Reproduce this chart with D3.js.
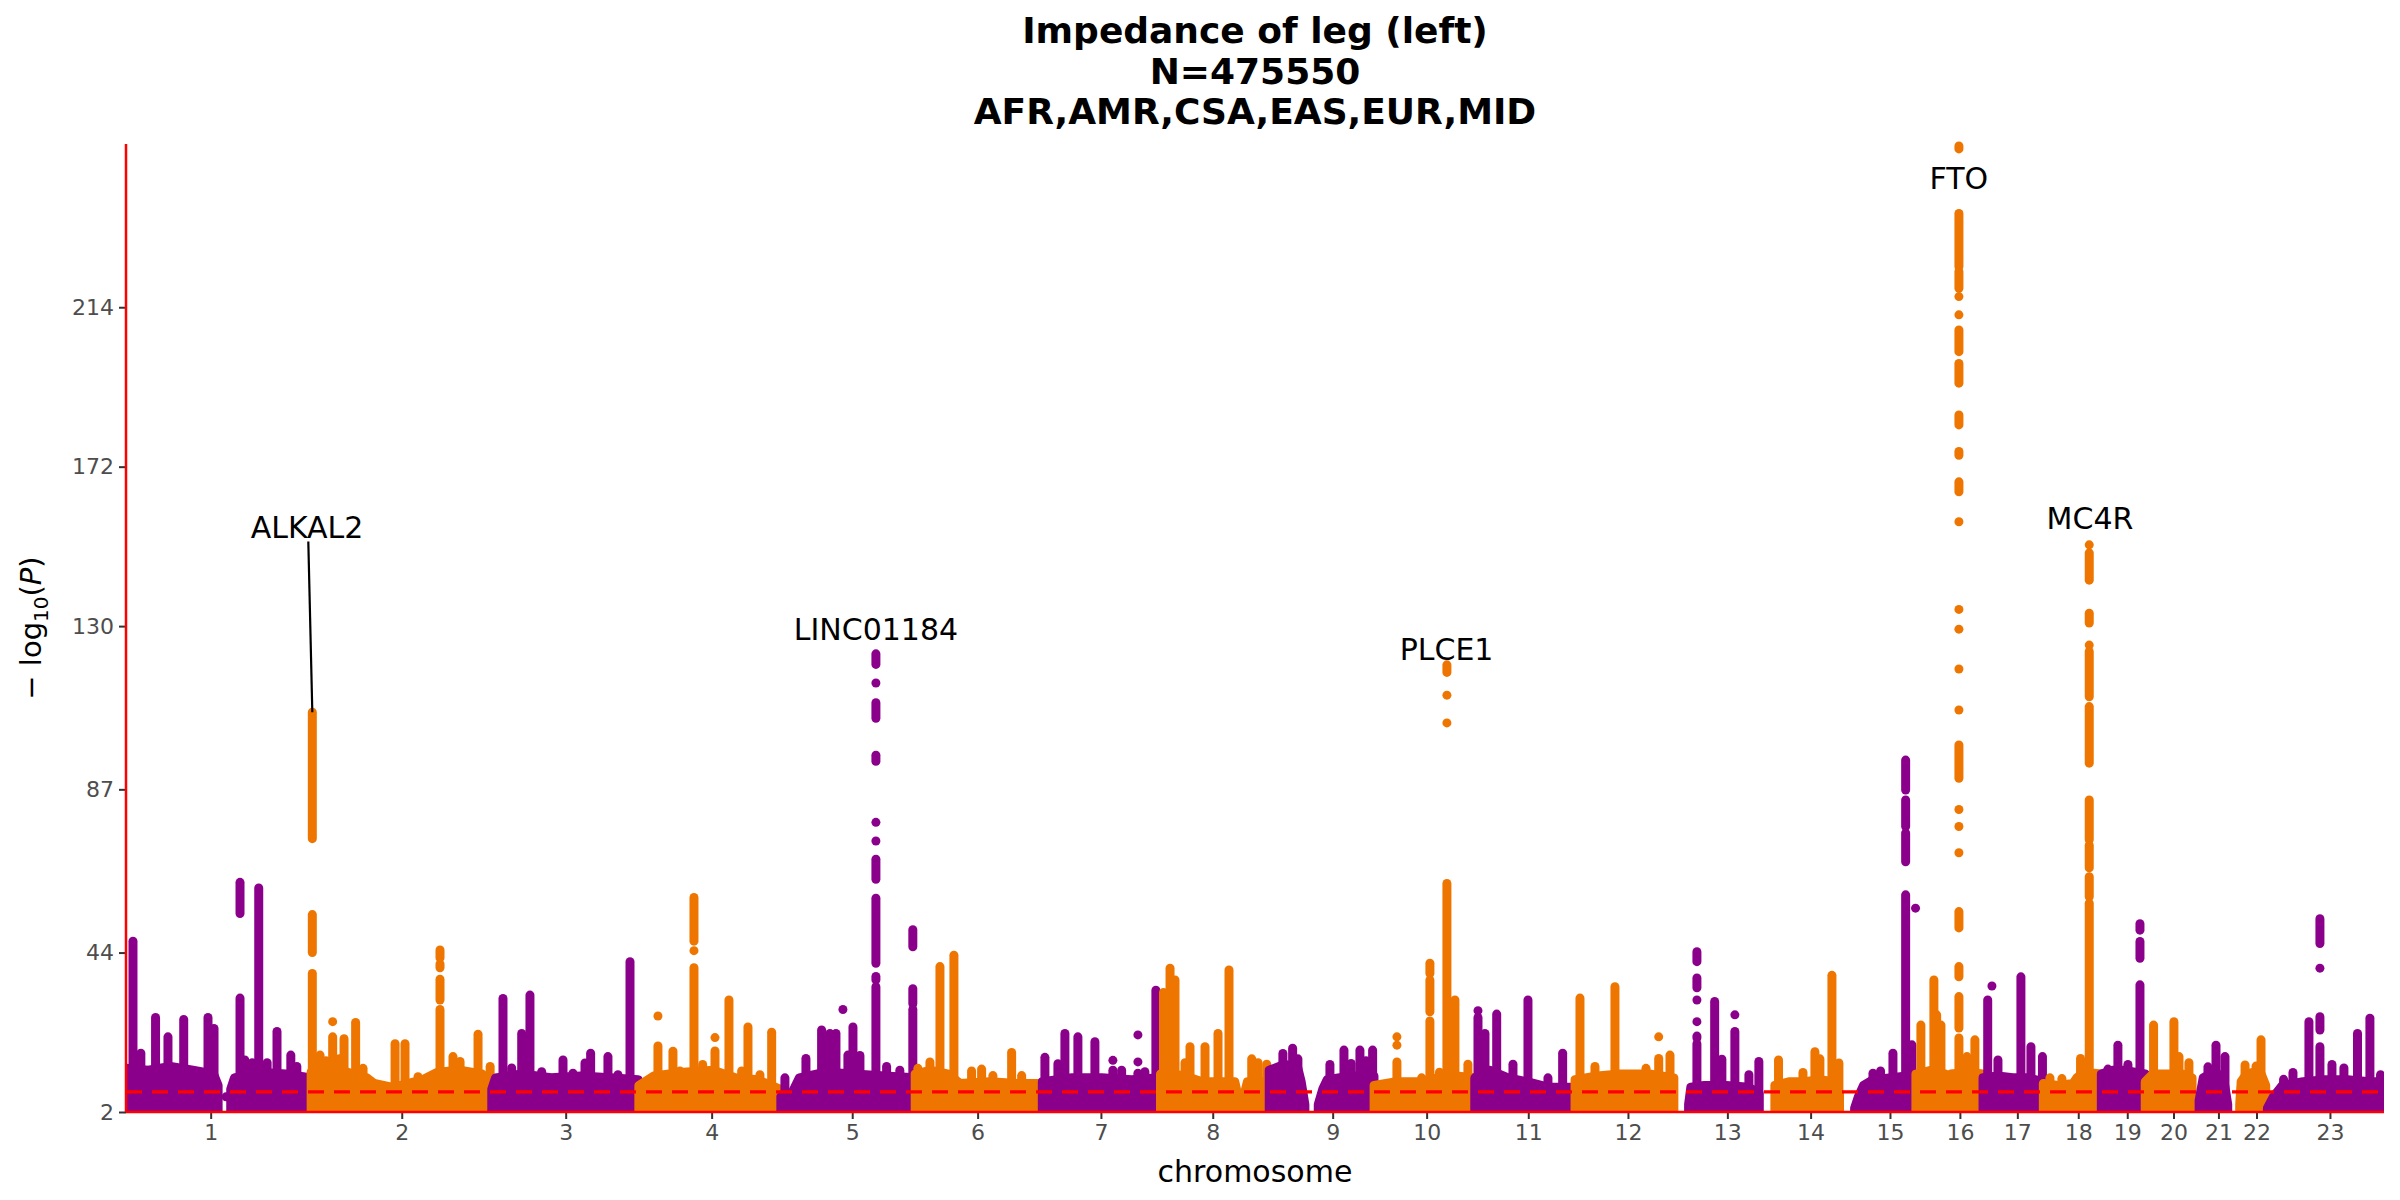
<!DOCTYPE html>
<html>
<head>
<meta charset="utf-8">
<script src="https://cdn.jsdelivr.net/npm/d3@7"></script>
<style>
  body { margin: 0; background: #fff; }
  text { font-family: "DejaVu Sans", sans-serif; }
</style>
</head>
<body>
<div id="chart"></div>
<script>
// chromosome layout (hg19 lengths, Mb) and tick positions inside each chromosome
const chromosomes = ["1","2","3","4","5","6","7","8","9","10","11","12","13","14","15","16","17","18","19","20","21","22","23"];
const chrLengthMb = [249.25,243.2,198.02,191.15,180.92,171.12,159.14,146.36,141.21,135.53,135.01,133.85,115.17,107.35,102.53,90.35,81.2,78.08,59.13,63.03,48.13,51.3,155.27];
const tickMb = [114,122,99.5,98,96.1,84,78.9,70.3,85.4,70.7,72,71.2,71.2,68.1,67.6,59.2,46.2,47,34.9,38,35.5,38.6,86.2];
const yTicks = [2, 44, 87, 130, 172, 214];
const yDomain = [2, 257];
const genomeMb = 3040;
const threshold = 7.3;
const titleLines = ["Impedance of leg (left)", "N=475550", "AFR,AMR,CSA,EAS,EUR,MID"];

// dense mass of points near the bottom: [pos Mb, top -log10P] per chromosome (null = gap)
const massProfile = [
  [[0,13.5],[30,13],[60,14],[90,13],[118,12],[124,9],[132,null],[141,8],[146,11],[180,12.5],[215,12],[249,11]],
  [[0,12.5],[40,13],[75,11],[85,9.5],[110,8.5],[130,9.5],[150,10.5],[170,12.5],[200,13],[230,12],[242,10]],
  [[0,8],[5,11],[40,12],[80,11],[120,11.5],[160,11],[197,10.5]],
  [[0,9],[20,11.5],[60,12.5],[100,13],[130,11],[160,10.5],[190,8]],
  [[0,6],[15,7],[25,11],[60,12.5],[100,12],[140,11.5],[180,11]],
  [[0,12],[20,13],[45,12],[60,9.5],[100,10],[140,9.5],[170,9.5]],
  [[0,10],[40,11],[80,11],[120,10.5],[158,11]],
  [[0,12],[20,12],[40,11],[55,10],[100,10],[104,6.5],[112,6],[117,10],[145,10]],
  [[0,13],[20,14.5],[38,14],[43,10],[48,4],[55,null],[66,4],[72,8],[78,10.5],[110,11.5],[141,11.5]],
  [[0,9],[30,10],[60,10],[85,11],[110,11.5],[135,11]],
  [[0,11],[20,13],[45,11],[70,10],[100,8.5],[134,8.5]],
  [[0,10.5],[30,11.5],[60,12],[100,12],[133,11]],
  [[19,4],[22,8.5],[40,9],[70,9],[100,8.5],[114,7]],
  [[20,9],[40,10],[60,10],[80,10.5],[100,10],[107,7]],
  [[20,3],[25,6],[32,9],[45,10.5],[70,11],[90,11.5],[102,11]],
  [[0,12],[20,13],[40,12],[44,6],[47,12],[70,12.5],[90,12]],
  [[0,11],[20,11.5],[40,11],[60,11],[81,10]],
  [[0,9.5],[20,9],[40,9.5],[45,11],[55,12.5],[78,12]],
  [[0,12],[15,13],[30,13],[45,12.5],[59,12]],
  [[0,10],[10,12],[30,12],[50,12],[63,11]],
  [[9.5,5],[15,11],[25,12],[35,12],[44,9],[48,4]],
  [[16,4],[18,10],[25,12],[35,12.5],[45,12],[51,9]],
  [[2,3],[10,6],[22,9],[50,10],[80,10.5],[110,10.5],[140,10],[155,10]]
];

// solid columns of points: [chr, pos Mb, top]
const simplePeaks = [
  [1,9.4,47],[1,20,17.5],[1,39.8,26.9],[1,56.5,21.8],[1,77.7,26.4],[1,110.4,26.9],[1,118.5,24],[1,160,15.7],[1,170,15],[1,178.7,61],[1,190,15],[1,203.3,23.2],[1,221.9,17],[1,230,14],
  [2,12,17],[2,20,15.5],[2,29,21.8],[2,38,16],[2,44.3,21.3],[2,59.9,25.6],[2,69.9,13.5],[2,113,20],[2,126.4,20],[2,191,16.6],[2,200.5,15.3],[2,224.7,22.5],[2,241,14],
  [3,15.1,31.9],[3,26.8,13.6],[3,40.3,22.7],[3,51.4,32.8],[3,67.2,12.6],[3,95.9,15.7],[3,109.3,12.2],[3,125.5,14.9],[3,133.1,17.5],[3,156.4,16.6],[3,169.9,11.8],[3,186.1,41.6],
  [4,25.7,19.4],[4,45.9,18],[4,55.3,12.8],[4,85.9,14.5],[4,102.5,18.1],[4,121.3,31.5],[4,138.4,12.8],[4,146.9,24.4],[4,163,11.8],[4,178.8,23],
  [5,5.5,11],[5,33.8,16.1],[5,54.9,23.6],[5,66.1,22.7],[5,74.2,22.7],[5,90.3,17],[5,97.1,24.4],[5,106.5,16.9],[5,142.4,14],[5,160.2,13],
  [6,3.6,13.5],[6,19.8,15.2],[6,33.3,40.3],[6,52.1,43.3],[6,75.9,12.8],[6,89.4,13.3],[6,104.6,11.6],[6,129.8,17.7],[6,143.3,11.6],
  [7,3.5,16.4],[7,21,14.7],[7,30.4,22.7],[7,47.9,21.8],[7,70.8,20.5],[7,95,13],[7,106.8,13],[7,128.7,12.2],[7,138.1,12.6],[7,152.9,34.1],
  [8,4,33.5],[8,12.8,39.9],[8,19.5,36.8],[8,33,15],[8,39.7,19.2],[8,59.9,19.2],[8,77.4,22.7],[8,92.2,39.4],[8,122.8,16],[8,131.3,15],[8,143,14.6],
  [9,18.4,17.4],[9,31.5,18.8],[9,38.6,16],[9,81.7,14.5],[9,100.6,18.3],[9,110.3,14.8],[9,122.1,18.3],[9,130.3,15.5],[9,139.2,18.3],
  [10,30.7,15.2],[10,64,11],[10,88,12.5],[10,108.8,31.5],[10,126.3,14.6],
  [11,4.3,26.9],[11,13.7,22.7],[11,29.5,27.8],[11,51.4,14.6],[11,71.6,31.5],[11,98.5,11],[11,118.3,17.5],
  [12,6.6,32],[12,26.8,14],[12,53.7,35],[12,95.5,13.5],[12,112.6,16.1],[12,127.8,17],
  [13,54.1,31.1],[13,63.8,15.9],[13,81.3,23.2],[13,100.2,11.8],[13,113.6,15.3],
  [14,24.9,15.7],[14,57.8,12.4],[14,73.9,17.9],[14,80.6,16],[14,96.8,38],[14,106.2,14.9],
  [15,44.7,12.2],[15,54.9,12.8],[15,71.6,17.5],[15,97.1,19.7],
  [16,6.7,24.9],[16,24.2,36.8],[16,27.9,27.6],[16,33.7,24.9],[16,68.7,16.6],[16,79.4,21],
  [17,6.3,31.5],[17,20.1,15.7],[17,51,37.6],[17,64.5,19.2],[17,80,16.6],
  [18,8.9,11],[18,25,10.8],[18,50.1,16.1],
  [19,8.9,13.3],[19,22.3,19.6],[19,35.8,14.5],
  [20,11.2,24.9],[20,38.6,25.8],[20,45.4,16.6],[20,58.8,15],
  [21,21.4,13.9],[21,32.2,19.6],[21,44.3,16.6],
  [22,23.2,14.4],[22,38,14.1],[22,44.7,21],
  [23,23.8,10.6],[23,36.4,12.4],[23,57.9,25.8],[23,88.9,14.5],[23,105,13.6],[23,123.3,22.7],[23,140,26.7],[23,154.3,11.8]
];

// columns with gaps: [chr, pos Mb, [[from, to], ...]]
const brokenPeaks = [
  [1,153.5,[[2,32],[54.3,62.5]]],
  [2,1.6,[[2,38.5],[44,54],[74,107.3]]],
  [2,173.5,[[2,29],[31.5,37],[40,41],[42.6,44.7]]],
  [4,74.2,[[2,40],[44.5,44.5],[47,58.5]]],
  [5,128,[[2,35],[36.8,37.7],[41.2,58.3],[63.3,68.6],[73.4,73.4],[78.3,78.3],[94.4,96],[105.7,109.8],[115,115],[119.9,122.7]]],
  [5,177.7,[[2,29],[30.5,34.5],[45.5,50]]],
  [10,75.1,[[2,26],[28.4,36.8],[38.5,41.2]]],
  [10,98,[[2,62.2],[104.5,104.5],[111.8,111.8],[117.8,119.8]]],
  [13,30.2,[[2,20],[21.5,22],[25.8,25.8],[31.5,31.5],[34.7,37.3],[41.6,44.2]]],
  [15,88.7,[[2,59.2],[67.9,75.5],[77.2,84.2],[86.8,94.7]]],
  [16,57.9,[[2,21.5],[24.1,32.4],[37.6,40.3],[50.5,54.8],[70.3,70.3],[77.2,77.2],[81.7,81.7],[89.9,98.7],[107.9,107.9],[118.7,118.7],[129.2,129.2],[134.4,134.4],[157.5,157.5],[165.4,168],[175,176],[183,185.6],[194,199.2],[202.3,208],[212,212],[216.8,216.8],[219,223.4],[224.7,238.7],[255.7,256.5]]],
  [18,61.8,[[2,57],[58.7,64],[66.3,72.3],[73.7,84.2],[93.9,108.8],[111.4,123.3],[125,125],[130.8,133.4],[142.1,149.3],[151.4,151.4]]],
  [19,52,[[2,35.5],[42.5,46.9],[49.9,51.6]]],
  [23,72.7,[[2,19.2],[23.6,27.1],[39.9,39.9],[46.4,52.9]]]
];

// isolated points: [chr, pos Mb, -log10P]
const singlePoints = [
  [1,134.6,6],[2,29,25.8],[2,143.9,11.3],[4,25.7,27.3],[4,102.5,21.6],[5,83.6,29],
  [7,95,15.6],[7,128.7,15.2],[7,128.7,22.3],[10,30.7,19.6],[10,30.7,21.8],[11,4.3,28.7],
  [12,112.6,21.8],[13,81.3,27.6],[15,102,55.7],[17,12,35.2]
];

// gene labels: [name, chr, pos Mb, baseline -log10P]
const geneLabels = [
  ["ALKAL2", 2, -5.5, 153.3],
  ["LINC01184", 5, 128, 126.4],
  ["PLCE1", 10, 97.5, 121.2],
  ["FTO", 16, 57.8, 245.1],
  ["MC4R", 18, 62.8, 155.5]
];
// label leader: [chr, fromPos, fromValue, toPos, toValue]
const leaderLines = [[2, -3.8, 152.3, 1.6, 107.3]];

const width = 2400, height = 1200;
const panel = { left: 126, right: 2384, top: 144, bottom: 1112 };
const colors = ["#8B008B", "#EE7600"];
const dotSize = 9;

const chrStart = d3.cumsum([0].concat(chrLengthMb.slice(0, -1)));
const chrColor = chr => colors[(chr - 1) % 2];

const x = d3.scaleLinear().domain([0, genomeMb]).range([panel.left, panel.right]);
const y = d3.scaleLinear().domain(yDomain).range([panel.bottom, panel.top]);
const gx = (chr, pos) => x(chrStart[chr - 1] + pos);

const svg = d3.select("#chart").append("svg")
    .attr("width", width)
    .attr("height", height);

svg.append("defs").append("clipPath")
    .attr("id", "panelClip")
  .append("rect")
    .attr("x", panel.left)
    .attr("y", panel.top - 6)
    .attr("width", panel.right - panel.left)
    .attr("height", panel.bottom - panel.top + 6);

const plot = svg.append("g").attr("clip-path", "url(#panelClip)");

const area = d3.area()
    .defined(d => d[1] !== null)
    .y0(y(2))
    .y1(d => y(d[1]));

chromosomes.forEach((name, i) => {
    const chr = i + 1;
    const col = chrColor(chr);
    const g = plot.append("g");

    g.append("path")
        .attr("d", area.x(d => gx(chr, d[0]))(massProfile[i]))
        .attr("fill", col)
        .attr("stroke", col)
        .attr("stroke-width", dotSize)
        .attr("stroke-linejoin", "round");

    const segs = [];
    simplePeaks.filter(p => p[0] === chr).forEach(p => segs.push([p[1], 2, p[2]]));
    brokenPeaks.filter(p => p[0] === chr).forEach(p => p[2].forEach(s => segs.push([p[1], s[0], s[1]])));
    singlePoints.filter(p => p[0] === chr).forEach(p => segs.push([p[1], p[2], p[2]]));

    g.selectAll("line")
        .data(segs)
        .join("line")
        .attr("x1", d => gx(chr, d[0]))
        .attr("x2", d => gx(chr, d[0]))
        .attr("y1", d => y(d[1]))
        .attr("y2", d => y(d[2]))
        .attr("stroke", col)
        .attr("stroke-width", dotSize)
        .attr("stroke-linecap", "round");
});

// genome-wide significance line
svg.append("line")
    .attr("x1", panel.left)
    .attr("x2", panel.right)
    .attr("y1", y(threshold))
    .attr("y2", y(threshold))
    .attr("stroke", "#FF0000")
    .attr("stroke-width", 3.3)
    .attr("stroke-dasharray", "16 10");

// axes
const xAxis = d3.axisBottom(x)
    .tickValues(tickMb.map((t, i) => chrStart[i] + t))
    .tickFormat((d, i) => chromosomes[i])
    .tickSize(7)
    .tickPadding(5);

const yAxis = d3.axisLeft(y)
    .tickValues(yTicks)
    .tickSize(7)
    .tickPadding(5);

const gX = svg.append("g")
    .attr("transform", `translate(0,${panel.bottom})`)
    .call(xAxis);
const gY = svg.append("g")
    .attr("transform", `translate(${panel.left},0)`)
    .call(yAxis);

[gX, gY].forEach(g => {
    g.select(".domain").remove();
    g.selectAll(".tick line").attr("stroke", "#333333").attr("stroke-width", 2);
    g.selectAll(".tick text")
        .attr("fill", "#4D4D4D")
        .style("font-size", "22px")
        .style("font-family", "DejaVu Sans");
});

svg.append("line")
    .attr("x1", panel.left).attr("x2", panel.left)
    .attr("y1", panel.top).attr("y2", panel.bottom)
    .attr("stroke", "#FF0000").attr("stroke-width", 2.5);
svg.append("line")
    .attr("x1", panel.left).attr("x2", panel.right)
    .attr("y1", panel.bottom).attr("y2", panel.bottom)
    .attr("stroke", "#FF0000").attr("stroke-width", 2.5);

// gene labels
leaderLines.forEach(l => {
    svg.append("line")
        .attr("x1", gx(l[0], l[1])).attr("y1", y(l[2]))
        .attr("x2", gx(l[0], l[3])).attr("y2", y(l[4]))
        .attr("stroke", "#000").attr("stroke-width", 2.2);
});

svg.selectAll(".gene")
    .data(geneLabels)
    .join("text")
    .attr("class", "gene")
    .attr("x", d => gx(d[1], d[2]))
    .attr("y", d => y(d[3]))
    .attr("text-anchor", "middle")
    .style("font-size", "30px")
    .attr("fill", "#000")
    .text(d => d[0]);

// title
svg.selectAll(".title")
    .data(titleLines)
    .join("text")
    .attr("class", "title")
    .attr("x", (panel.left + panel.right) / 2)
    .attr("y", (d, i) => 43 + i * 40.5)
    .attr("text-anchor", "middle")
    .style("font-size", "36px")
    .style("font-weight", "bold")
    .text(d => d);

// axis titles
svg.append("text")
    .attr("x", (panel.left + panel.right) / 2)
    .attr("y", 1182)
    .attr("text-anchor", "middle")
    .style("font-size", "30px")
    .text("chromosome");

const yLab = svg.append("text")
    .attr("transform", `translate(41,${(panel.top + panel.bottom) / 2}) rotate(-90)`)
    .attr("text-anchor", "middle")
    .style("font-size", "29px");
yLab.append("tspan").text("\u2212 log");
yLab.append("tspan").attr("dy", 7).style("font-size", "20px").text("10");
yLab.append("tspan").attr("dy", -7).text("(");
yLab.append("tspan").style("font-style", "italic").text("P");
yLab.append("tspan").text(")");
</script>
</body>
</html>
